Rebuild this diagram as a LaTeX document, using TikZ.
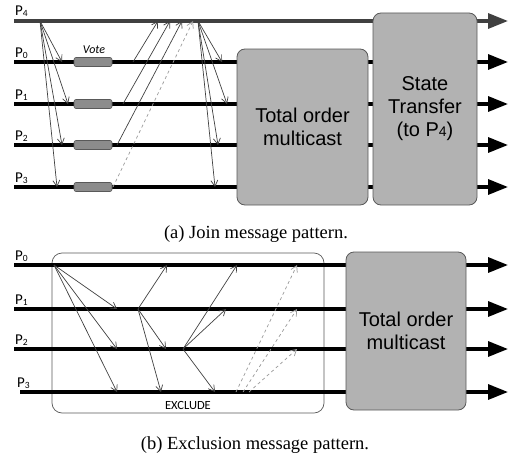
\documentclass[tikz,border=0pt]{standalone}
\usepackage{fontspec}
\setmainfont{Liberation Serif}
\newfontfamily\carlito{Carlito}
\newfontfamily\arialfont{Liberation Sans}
\usepackage{tikz}
\usetikzlibrary{arrows.meta,positioning}

\tikzset{
  proc/.style={line width=3.2pt, -{Triangle[length=20pt,width=15pt]}},
  msg/.style={black!75, line width=0.7pt, -{Straight Barb[length=6pt,width=7pt]}},
  lostmsg/.style={msg, black!40, dashed},
  block/.style={draw=black!65, fill=black!30, rounded corners=8pt, line width=0.8pt,
    align=center, font=\arialfont\fontsize{20}{23}\selectfont},
  votebox/.style={draw=black!65, fill=black!45, rounded corners=2pt, line width=0.6pt,
    minimum width=38pt, minimum height=9pt, inner sep=0pt},
  plabel/.style={anchor=base west, inner sep=0pt, font=\carlito\fontsize{15}{15}\selectfont},
  caption/.style={anchor=base, inner sep=0pt, font=\fontsize{18.5}{22}\selectfont}
}
\newcommand{\pid}[1]{P\raisebox{-1pt}{\fontsize{9.5}{9.5}\selectfont #1}}

\begin{document}
\begin{tikzpicture}[x=1pt,y=-1pt]
  \useasboundingbox (0,0) rectangle (510,460);

  % (a) join
  \foreach \i/\y in {4/21,0/62,1/104,2/145,3/187}
    \coordinate (a\i) at (0,\y);
  \draw[proc, black!75] ([xshift=14pt]a4) -- ([xshift=508pt]a4);
  \foreach \i in {0,...,3}
    \draw[proc] ([xshift=14pt]a\i) -- ([xshift=508pt]a\i);
  \foreach \i in {4,0,1,2,3}
    \node[plabel] (la\i) at ([shift={(15pt,5pt)}]a\i) {\pid{\i}};

  \foreach \i/\x in {0/62,1/68,2/62,3/57}
    \draw[msg] ([xshift=40pt]a4) -- ([xshift=\x pt]a\i);
  \foreach \i/\y in {0/62,1/104,2/145,3/187}
    \node[votebox] (vote\i) at (93,\y) {};
  \node[anchor=base, inner sep=0pt, font=\carlito\itshape\fontsize{12}{12}\selectfont] (votelbl) at (94,53) {Vote};
  \draw[msg] ([xshift=133pt]a0) -- ([xshift=158pt]a4);
  \draw[msg] ([xshift=123pt]a1) -- ([xshift=170pt]a4);
  \draw[msg] ([xshift=117pt]a2) -- ([xshift=182pt]a4);
  \draw[lostmsg] ([xshift=113pt]a3) -- ([xshift=193pt]a4);
  \foreach \i/\x in {0/222,1/227,2/218,3/215}
    \draw[msg] ([xshift=198pt]a4) -- ([xshift=\x pt]a\i);

  \node[block, minimum width=131pt, minimum height=156pt] (tomA) at (302.5,127) {Total order\\multicast};
  \node[block, minimum width=104pt, minimum height=192pt] (state) at (425,109)
    {State\\Transfer\\(to P{\fontsize{14}{14}\selectfont 4})};
  \node[caption] (capA) at (256,238) {(a) Join message pattern.};

  % (b) exclusion
  \foreach \i/\y in {0/265,1/309,2/349,3/392}
    \coordinate (b\i) at (0,\y);
  \node[draw=black!65, rounded corners=10pt, line width=0.7pt, minimum width=272pt,
    minimum height=160pt] (excl) at (188,333) {};
  \foreach \i in {0,1,2}
    \draw[proc] ([xshift=14pt]b\i) -- ([xshift=508pt]b\i);
  \draw[proc] ([xshift=20pt]b3) -- ([xshift=508pt]b3);
  \foreach \i/\x in {0/15,1/15,2/15,3/17}
    \node[plabel] (lb\i) at ([shift={(\x pt,5pt)}]b\i) {\pid{\i}};
  \node[anchor=base, inner sep=0pt, font=\carlito\fontsize{12.5}{12}\selectfont] (exlbl) at (188,409) {EXCLUDE};

  \foreach \i in {1,2,3}
    \draw[msg] ([xshift=54pt]b0) -- ([xshift=117pt]b\i);
  \foreach \i/\x in {0/167,2/166,3/161}
    \draw[msg] ([xshift=138pt]b1) -- ([xshift=\x pt]b\i);
  \foreach \i/\x in {0/237,1/226,3/215}
    \draw[msg] ([xshift=183pt]b2) -- ([xshift=\x pt]b\i);
  \foreach \i/\x in {0/236,1/243,2/249}
    \draw[lostmsg] ([xshift=\x pt]b3) -- ([xshift=297pt]b\i);

  \node[block, minimum width=120pt, minimum height=158pt] (tomB) at (406,331) {Total order\\multicast};
  \node[caption] (capB) at (255,449) {(b) Exclusion message pattern.};
\end{tikzpicture}
\end{document}
